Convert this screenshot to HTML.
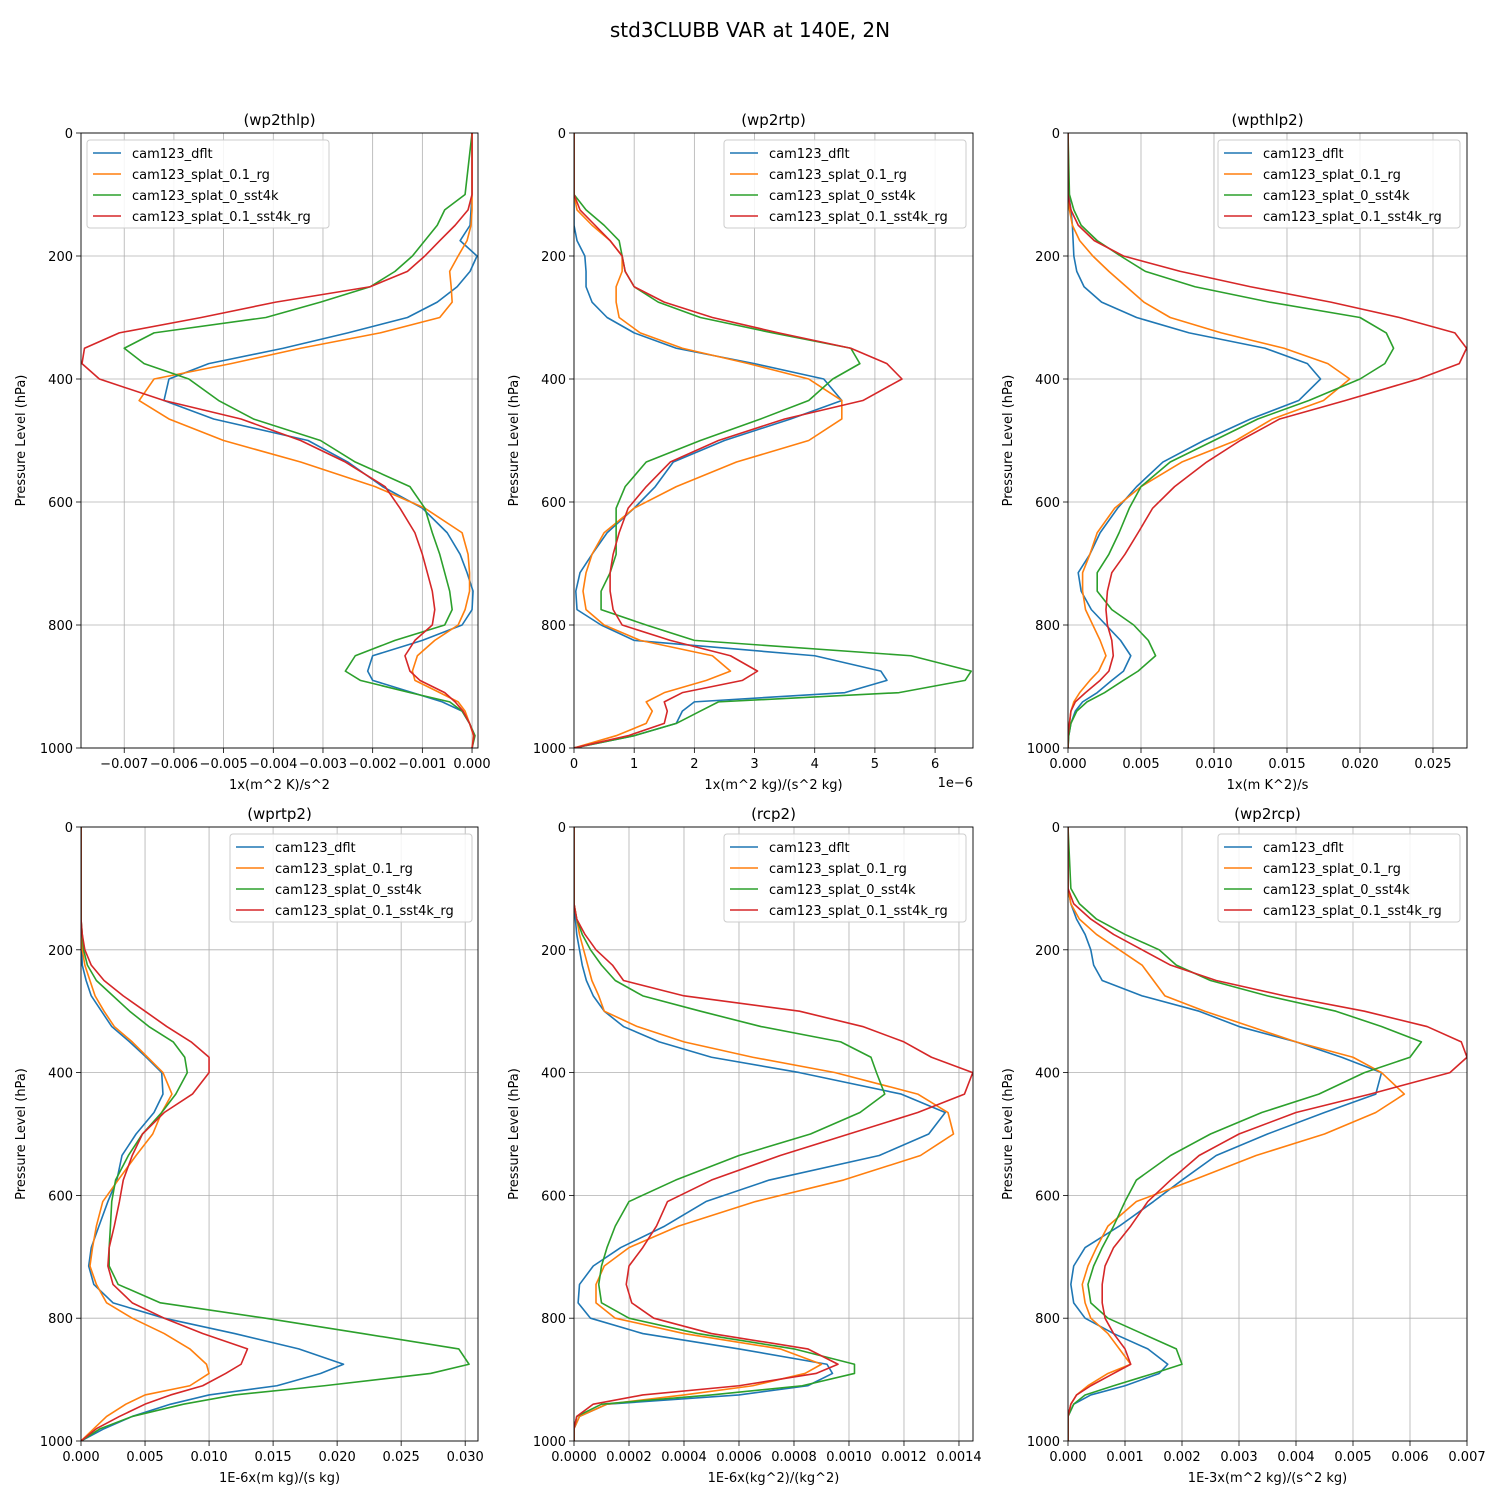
<!DOCTYPE html>
<html><head><meta charset="utf-8">
<style>
html,body{margin:0;padding:0;background:#fff;}
svg{display:block;font-family:"DejaVu Sans","Liberation Sans",sans-serif;}
</style></head>
<body>
<svg id="fig" width="1500" height="1500" viewBox="0 0 1500 1500" xmlns="http://www.w3.org/2000/svg">
<rect width="1500" height="1500" fill="#fff"/>
<text x="750" y="37" font-size="20" text-anchor="middle">std3CLUBB VAR at 140E, 2N</text>
</svg>
<script>
const levels = [0,100,125,150,175,200,225,250,275,300,325,350,375,400,435,465,500,535,575,610,650,685,715,745,775,800,825,850,875,890,910,925,940,960,980,1000];
const seriesNames = ["cam123_dflt","cam123_splat_0.1_rg","cam123_splat_0_sst4k","cam123_splat_0.1_sst4k_rg"];
const colors = ["#1f77b4","#ff7f0e","#2ca02c","#d62728"];
const yTicks = [0,200,400,600,800,1000];

// panel 1: wp2thlp (units 1e-3)
const p1Blue  = [0,0,-0.02,-0.04,-0.24,0.1,-0.04,-0.3,-0.7,-1.3,-2.5,-3.8,-5.3,-6.1,-6.2,-5.2,-3.3,-2.5,-1.8,-1.0,-0.5,-0.24,-0.1,0.02,0,-0.2,-1.0,-2.0,-2.1,-2.0,-1.2,-0.6,-0.2,-0.05,0.05,0];
const p1Orange= [0,0,0,-0.02,-0.1,-0.28,-0.45,-0.42,-0.4,-0.65,-1.85,-3.45,-4.85,-6.4,-6.7,-6.1,-5.0,-3.45,-1.95,-0.95,-0.2,-0.08,-0.05,-0.05,-0.14,-0.28,-0.75,-1.1,-1.2,-1.15,-0.65,-0.28,-0.14,-0.05,0.03,0];
const p1Green = [0,-0.14,-0.55,-0.7,-0.95,-1.2,-1.55,-2.05,-3.05,-4.15,-6.4,-7.0,-6.6,-5.7,-5.1,-4.4,-3.05,-2.35,-1.25,-0.95,-0.8,-0.65,-0.55,-0.45,-0.4,-0.55,-1.55,-2.35,-2.55,-2.25,-1.25,-0.45,-0.2,-0.05,0.06,0];
const p1Red   = [0,0,-0.08,-0.34,-0.65,-0.95,-1.3,-2.05,-3.95,-5.45,-7.1,-7.8,-7.85,-7.5,-6.2,-4.65,-3.45,-2.55,-1.75,-1.45,-1.15,-1.0,-0.9,-0.8,-0.75,-0.8,-1.15,-1.35,-1.25,-1.05,-0.55,-0.34,-0.18,-0.05,0.04,0];
const p1Ticks = [-7,-6,-5,-4,-3,-2,-1,0];
const p1Labels = ["\u22120.007","\u22120.006","\u22120.005","\u22120.004","\u22120.003","\u22120.002","\u22120.001","0.000"];

// panel 2: wp2rtp (units 1e-6)
const p2Blue  = [0,0,0,0,0.05,0.18,0.2,0.2,0.3,0.55,1.0,1.7,3.0,4.15,4.45,3.6,2.5,1.65,1.35,1.0,0.55,0.3,0.1,0.03,0.05,0.45,1.0,4.0,5.1,5.2,4.5,2.0,1.8,1.7,1.0,0];
const p2Orange= [0,0,0.05,0.3,0.6,0.8,0.8,0.7,0.7,0.75,1.1,1.8,2.9,3.9,4.45,4.45,3.9,2.7,1.7,1.0,0.5,0.3,0.2,0.15,0.2,0.5,1.1,2.3,2.6,2.2,1.5,1.2,1.3,1.2,0.7,0];
const p2Green = [0,0,0.2,0.5,0.75,0.8,0.85,1.0,1.4,2.1,3.3,4.6,4.75,4.3,3.9,3.1,2.1,1.2,0.85,0.7,0.7,0.7,0.6,0.45,0.45,1.2,2.0,5.6,6.6,6.5,5.4,2.4,2.1,1.7,1.0,0];
const p2Red   = [0,0,0.1,0.35,0.6,0.8,0.85,1.0,1.5,2.3,3.4,4.6,5.2,5.45,4.8,3.5,2.4,1.6,1.2,0.9,0.75,0.65,0.6,0.6,0.65,0.8,1.6,2.6,3.05,2.8,1.8,1.5,1.55,1.5,0.9,0];
const p2Ticks = [0,1,2,3,4,5,6];
const p2Labels = ["0","1","2","3","4","5","6"];

// panel 3: wpthlp2 (units 1e-3)
const p3Blue  = [0,0.05,0.2,0.3,0.35,0.4,0.6,1.1,2.3,4.7,8.3,13.5,16.4,17.3,15.8,12.5,9.3,6.5,4.7,3.4,2.2,1.5,0.7,0.9,1.6,2.6,3.6,4.3,3.8,3.0,2.0,1.0,0.5,0.2,0.05,0];
const p3Orange= [0,0,0.1,0.3,0.8,1.7,2.8,4.0,5.2,7.0,10.5,14.8,17.8,19.3,17.5,14.0,11.5,7.8,5.0,3.2,2.0,1.5,1.0,1.0,1.2,1.7,2.2,2.6,2.1,1.5,0.8,0.4,0.2,0.1,0,0];
const p3Green = [0,0.1,0.4,0.9,2.0,3.6,5.3,8.7,13.8,20.0,21.8,22.3,21.7,20.0,16.5,13.0,10.0,7.0,5.0,4.2,3.5,2.8,2.0,2.0,3.0,4.5,5.5,6.0,4.8,3.8,2.5,1.3,0.6,0.2,0.05,0];
const p3Red   = [0,0,0.2,0.7,1.8,3.8,7.7,12.5,18.0,22.7,26.5,27.3,26.8,24.0,19.0,14.5,11.8,9.5,7.3,5.8,4.8,3.9,3.0,2.7,2.6,2.7,3.0,3.1,2.8,2.2,1.2,0.5,0.2,0.1,0,0];
const p3Ticks = [0,5,10,15,20,25];
const p3Labels = ["0.000","0.005","0.010","0.015","0.020","0.025"];

// panel 4: wprtp2 (units 1e-3)
const p4Blue  = [0,0,0,0,0,0.05,0.1,0.4,0.8,1.6,2.4,3.8,5.1,6.3,6.4,5.7,4.3,3.2,2.8,2.1,1.4,0.8,0.6,1.0,2.5,6.5,12.0,17.0,20.5,18.7,15.3,10.0,7.0,4.0,1.8,0];
const p4Orange= [0,0,0,0,0,0.1,0.3,0.7,1.1,1.8,2.6,4.0,5.2,6.4,7.1,6.3,5.6,4.3,2.9,1.7,1.2,0.9,0.7,1.2,2.0,4.0,6.5,8.5,9.8,10.0,8.5,5.0,3.5,2.0,1.0,0];
const p4Green = [0,0,0,0,0.1,0.2,0.5,1.2,2.5,3.8,5.3,7.2,8.1,8.3,7.4,6.3,4.8,3.7,2.7,2.4,2.3,2.2,2.2,2.9,6.2,14.4,22.0,29.5,30.3,27.3,19.0,12.0,8.0,4.0,1.5,0];
const p4Red   = [0,0,0,0,0.1,0.3,0.8,1.8,3.3,5.0,6.7,8.6,10.0,10.0,8.7,6.5,4.8,4.0,3.3,3.0,2.6,2.2,2.1,2.5,4.0,6.5,9.5,13.0,12.5,11.3,9.5,7.0,5.0,3.0,1.2,0];
const p4Ticks = [0,5,10,15,20,25,30];
const p4Labels = ["0.000","0.005","0.010","0.015","0.020","0.025","0.030"];

// panel 5: rcp2 (units 1e-4)
const p5Blue  = [0,0,0,0.05,0.1,0.2,0.3,0.45,0.7,1.1,1.8,3.1,5.0,8.2,11.9,13.5,12.9,11.1,7.1,4.8,3.3,1.7,0.7,0.2,0.15,0.6,2.5,6.0,9.2,9.4,8.5,6.0,1.2,0.2,0,0];
const p5Orange= [0,0,0,0.1,0.2,0.35,0.5,0.65,0.9,1.1,2.3,4.0,6.5,9.5,12.5,13.6,13.8,12.6,9.8,6.6,3.8,2.0,1.1,0.8,0.8,1.5,4.0,7.5,9.0,8.4,6.5,4.0,1.2,0.2,0,0];
const p5Green = [0,0,0,0.1,0.3,0.6,1.0,1.5,2.5,4.6,6.8,9.7,10.8,11.0,11.3,10.4,8.6,6.0,3.7,2.0,1.5,1.2,1.0,0.9,1.0,2.0,4.5,8.0,10.2,10.2,8.3,5.0,1.0,0.1,0,0];
const p5Red   = [0,0,0,0.1,0.4,0.8,1.4,1.8,4.0,8.2,10.5,12.0,13.0,14.5,14.2,12.5,10.0,7.5,5.0,3.4,3.0,2.5,2.0,1.9,2.1,2.9,5.0,8.5,9.6,8.8,6.0,2.5,0.7,0.1,0,0];
const p5Ticks = [0,2,4,6,8,10,12,14];
const p5Labels = ["0.0000","0.0002","0.0004","0.0006","0.0008","0.0010","0.0012","0.0014"];

// panel 6: wp2rcp (units 1e-3)
const p6Blue  = [0,0,0.05,0.15,0.3,0.4,0.45,0.6,1.3,2.3,3.0,4.0,4.8,5.5,5.4,4.5,3.5,2.6,2.0,1.5,0.9,0.3,0.1,0.05,0.1,0.3,0.8,1.4,1.75,1.6,1.0,0.4,0.1,0,0,0];
const p6Orange= [0,0,0.05,0.2,0.5,0.9,1.3,1.5,1.7,2.4,3.2,4.0,5.0,5.5,5.9,5.4,4.5,3.3,2.2,1.2,0.7,0.5,0.35,0.25,0.3,0.4,0.7,0.9,1.1,0.7,0.35,0.15,0.05,0,0,0];
const p6Green = [0,0.05,0.2,0.5,1.0,1.6,1.9,2.5,3.5,4.7,5.5,6.2,6.0,5.2,4.4,3.4,2.5,1.8,1.2,1.0,0.8,0.6,0.45,0.35,0.4,0.7,1.3,1.9,2.0,1.5,0.8,0.3,0.1,0,0,0];
const p6Red   = [0,0,0.1,0.4,0.8,1.3,1.8,2.6,3.8,5.2,6.3,6.9,7.0,6.7,5.3,4.0,3.0,2.3,1.8,1.4,1.1,0.8,0.65,0.6,0.6,0.65,0.8,1.0,1.1,0.8,0.4,0.15,0.05,0,0,0];
const p6Ticks = [0,1,2,3,4,5,6,7];
const p6Labels = ["0.000","0.001","0.002","0.003","0.004","0.005","0.006","0.007"];

const NS = "http://www.w3.org/2000/svg";
const svg = document.getElementById("fig");
function mk(tag, attrs, parent){
  const e = document.createElementNS(NS, tag);
  for (const k in attrs) e.setAttribute(k, attrs[k]);
  (parent||svg).appendChild(e);
  return e;
}

const panels = [
  {key:"wp2thlp", title:"(wp2thlp)", box:[81,133,478,748], xmin:-7.87, xmax:0.12, series:[p1Blue,p1Orange,p1Green,p1Red], ticks:p1Ticks, labels:p1Labels, xlabel:"1x(m^2 K)/s^2", legend:[87,140], offset:null},
  {key:"wp2rtp", title:"(wp2rtp)", box:[574,133,973,748], xmin:0, xmax:6.63, series:[p2Blue,p2Orange,p2Green,p2Red], ticks:p2Ticks, labels:p2Labels, xlabel:"1x(m^2 kg)/(s^2 kg)", legend:[724,140], offset:"1e\u22126"},
  {key:"wpthlp2", title:"(wpthlp2)", box:[1068,133,1467,748], xmin:0, xmax:27.33, series:[p3Blue,p3Orange,p3Green,p3Red], ticks:p3Ticks, labels:p3Labels, xlabel:"1x(m K^2)/s", legend:[1218,140], offset:null},
  {key:"wprtp2", title:"(wprtp2)", box:[81,827,478,1441], xmin:0, xmax:31.0, series:[p4Blue,p4Orange,p4Green,p4Red], ticks:p4Ticks, labels:p4Labels, xlabel:"1E-6x(m kg)/(s kg)", legend:[230,834], offset:null},
  {key:"rcp2", title:"(rcp2)", box:[574,827,973,1441], xmin:0, xmax:14.51, series:[p5Blue,p5Orange,p5Green,p5Red], ticks:p5Ticks, labels:p5Labels, xlabel:"1E-6x(kg^2)/(kg^2)", legend:[724,834], offset:null},
  {key:"wp2rcp", title:"(wp2rcp)", box:[1068,827,1467,1441], xmin:0, xmax:7.0, series:[p6Blue,p6Orange,p6Green,p6Red], ticks:p6Ticks, labels:p6Labels, xlabel:"1E-3x(m^2 kg)/(s^2 kg)", legend:[1218,834], offset:null}
];

panels.forEach(p => {
  const [x0,y0,x1,y1] = p.box;
  const xs = v => x0 + (v - p.xmin) / (p.xmax - p.xmin) * (x1 - x0);
  const ys = v => y0 + v / 1000 * (y1 - y0);
  const g = mk("g", {});
  
  
  const clipId = "clip-" + p.key;
  const cp = mk("clipPath", {id: clipId}, g);
  mk("rect", {x:x0, y:y0, width:x1-x0, height:y1-y0}, cp);

  // grid
  p.ticks.forEach((t,i) => {
    const x = xs(t);
    const gl = mk("line", {x1:x, y1:y0, x2:x, y2:y1, stroke:"#b0b0b0", "stroke-width":0.8}, g);
    
    
    mk("line", {x1:x, y1:y1, x2:x, y2:y1+5, stroke:"#000", "stroke-width":0.8}, g);
    const tl = mk("text", {x:x, y:y1+20, "font-size":13, "text-anchor":"middle"}, g);
    tl.textContent = p.labels[i];
    
    
  });
  yTicks.forEach(t => {
    const y = ys(t);
    const gl = mk("line", {x1:x0, y1:y, x2:x1, y2:y, stroke:"#b0b0b0", "stroke-width":0.8}, g);
    
    
    mk("line", {x1:x0-5, y1:y, x2:x0, y2:y, stroke:"#000", "stroke-width":0.8}, g);
    const tl = mk("text", {x:x0-8, y:y+5, "font-size":13, "text-anchor":"end"}, g);
    tl.textContent = String(t);
    
    
  });

  // series
  const sg = mk("g", {"clip-path":"url(#" + clipId + ")"}, g);
  p.series.forEach((vals, si) => {
    const d = vals.map((v,i) => (i ? "L" : "M") + xs(v).toFixed(2) + "," + ys(levels[i]).toFixed(2)).join("");
    const path = mk("path", {d:d, fill:"none", stroke:colors[si], "stroke-width":1.6, "stroke-linejoin":"round"}, sg);
    
    
  });

  // frame
  const fr = mk("rect", {x:x0, y:y0, width:x1-x0, height:y1-y0, fill:"none", stroke:"#000", "stroke-width":0.9}, g);
  
  

  // title
  const tt = mk("text", {x:(x0+x1)/2, y:y0-8, "font-size":15, "text-anchor":"middle"}, g);
  tt.textContent = p.title;
  
  

  // labels
  const xl = mk("text", {x:(x0+x1)/2, y:y1+41, "font-size":13, "text-anchor":"middle"}, g);
  xl.textContent = p.xlabel;
  
  
  const ylx = x0 - 56, yly = (y0+y1)/2;
  const yl = mk("text", {x:ylx, y:yly, "font-size":13, "text-anchor":"middle", transform:"rotate(-90 " + ylx + " " + yly + ")"}, g);
  yl.textContent = "Pressure Level (hPa)";
  
  
  if (p.offset) {
    const ot = mk("text", {x:x1, y:y1+39, "font-size":13, "text-anchor":"end"}, g);
    ot.textContent = p.offset;
    
    
  }

  // legend
  const [lx, ly] = p.legend;
  const lg = mk("g", {}, g);
  
  
  mk("rect", {x:lx, y:ly, width:242, height:88, rx:3, fill:"#fff", "fill-opacity":0.85, stroke:"#cccccc", "stroke-width":1}, lg);
  seriesNames.forEach((n, si) => {
    const yy = ly + 13 + si * 21;
    const le = mk("g", {}, lg);
    
    
    mk("line", {x1:lx+6, y1:yy, x2:lx+34, y2:yy, stroke:colors[si], "stroke-width":1.6}, le);
    const t = mk("text", {x:lx+45, y:yy+5, "font-size":13}, le);
    t.textContent = n;
  });
});
</script>
</body></html>
